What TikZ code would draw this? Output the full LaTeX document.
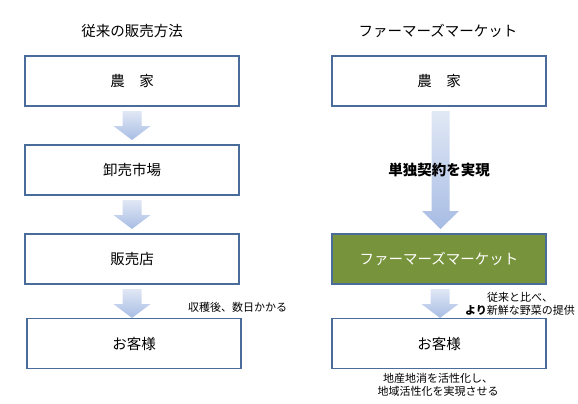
\documentclass[tikz,border=0pt]{standalone}
\usepackage{fontspec}
\newfontfamily\jp{Noto Sans CJK JP}
\usetikzlibrary{shadings}
\definecolor{boxline}{HTML}{4A6C9B}
\definecolor{mkgreen}{HTML}{77933C}
\definecolor{arrtop}{HTML}{E1E8F5}
\definecolor{arrbot}{HTML}{A7BCE4}
\tikzset{
  flowbox/.style={draw=boxline, line width=1.3pt, fill=white, minimum width=214pt, minimum height=50pt, inner sep=0pt, font=\jp\fontsize{14.5}{16}\selectfont},
  greenbox/.style={flowbox, fill=mkgreen, text=white},
  title/.style={font=\jp\fontsize{14.5}{16}\selectfont, inner sep=0pt},
  boldlabel/.style={font=\jp\bfseries\fontsize{14.5}{16}\selectfont, inner sep=0pt},
  note/.style={font=\jp\fontsize{11}{13}\selectfont, inner sep=0pt, align=center},
}
\newcommand{\downarr}[3]{% x, ytop, ybottom (tip); head length 14
  \shade[top color=arrtop, bottom color=arrbot]
    (#1-9.5,#2) -- (#1+9.5,#2) -- (#1+9.5,#3-14) -- (#1+18.5,#3-14) -- (#1,#3) -- (#1-18.5,#3-14) -- (#1-9.5,#3-14) -- cycle;}
\begin{document}
\begin{tikzpicture}[x=1pt,y=-1pt]
\useasboundingbox (0,0) rectangle (578,404);
% titles
\node[title] (t1) at (132,31) {従来の販売方法};
\node[title] (t2) at (438,31) {ファーマーズマーケット};
% left column
\node[flowbox] (l1) at (132,81) {農　家};
\node[flowbox] (l2) at (132,170) {卸売市場};
\node[flowbox] (l3) at (132,259) {販売店};
\node[flowbox] (l4) at (134,343.5) {お客様};
% right column
\node[flowbox] (r1) at (439,81) {農　家};
\node[greenbox] (r2) at (439,259) {ファーマーズマーケット};
\node[flowbox] (r3) at (439,343.5) {お客様};
% arrows
\downarr{132}{111}{140}
\downarr{132}{200}{229}
\downarr{132}{289}{318}
\shade[top color=arrtop, bottom color=arrbot]
  (431.5,111) -- (449.5,111) -- (449.5,211) -- (459,211) -- (440.5,229) -- (422,211) -- (431.5,211) -- cycle;
\downarr{440}{289}{318}
% labels
\node[boldlabel] (c1) at (439,170) {単独契約を実現};
\node[note, anchor=west] (n1) at (188,307.5) {収穫後、数日かかる};
\node[note] (n2) at (520,303.5) {従来と比べ、\\{\bfseries より}新鮮な野菜の提供};
\node[note] (n3) at (438,384.5) {地産地消を活性化し、\\地域活性化を実現させる};
\end{tikzpicture}
\end{document}
